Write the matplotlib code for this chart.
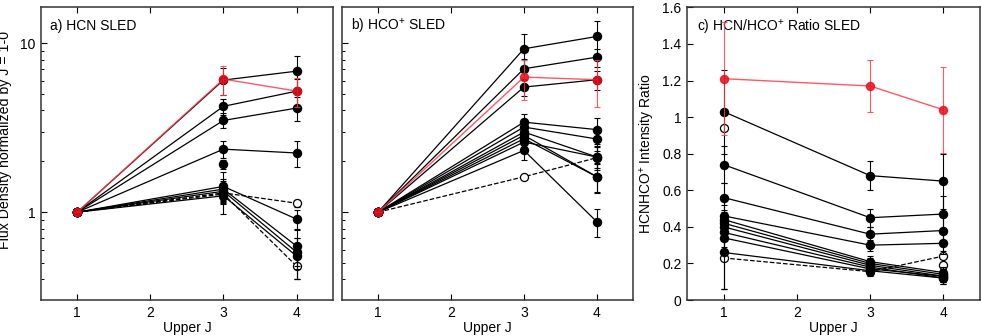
import matplotlib
matplotlib.use("Agg")
import matplotlib.pyplot as plt
import numpy as np
from matplotlib.ticker import FixedLocator, NullFormatter

plt.rcParams["font.family"] = ["Liberation Sans", "DejaVu Sans"]
plt.rcParams["mathtext.fontset"] = "custom"
plt.rcParams["mathtext.rm"] = "Liberation Sans"
plt.rcParams["font.size"] = 10

nan = np.nan
upper_j = [1, 3, 4]

# --- a) HCN SLED (normalised to J=1-0) ---
hcn_red = [1.0, 6.13, 5.21]
hcn_red_err = [0.0, 1.2, 1.0]
hcn_black = [
    [1.0, 6.05, 6.83],
    [1.0, 4.23, 5.20],
    [1.0, 3.49, 4.13],
    [1.0, 2.36, 2.24],
    [nan, 1.92, nan],
    [1.0, 1.42, 0.91],
    [1.0, 1.37, 0.63],
    [1.0, 1.33, 0.58],
    [1.0, 1.25, 0.55],
]
hcn_black_err = [
    [0.0, 1.1, 1.6],
    [0.0, 0.45, 0.9],
    [0.0, 0.35, 0.65],
    [0.0, 0.28, 0.38],
    [0.0, 0.12, 0.0],
    [0.0, 0.30, 0.12],
    [0.0, 0.20, 0.15],
    [0.0, 0.15, 0.12],
    [0.0, 0.28, 0.15],
]
hcn_open = [
    [1.0, 1.30, 1.13],
    [1.0, 1.28, 0.48],
]
hcn_open_err = [
    [0.0, 0.15, 0.05],
    [0.0, 0.15, 0.08],
]

# --- b) HCO+ SLED ---
hco_red = [1.0, 6.30, 6.08]
hco_red_err = [0.0, 1.7, 1.9]
hco_black = [
    [1.0, 9.27, 10.96],
    [1.0, 7.06, 8.27],
    [1.0, 5.50, 6.08],
    [1.0, 3.41, 3.08],
    [1.0, 3.19, 2.71],
    [1.0, 2.98, 2.12],
    [1.0, 2.85, 1.62],
    [1.0, 2.72, 1.62],
    [1.0, 2.60, 2.12],
    [1.0, 2.32, 0.877],
]
hco_black_err = [
    [0.0, 2.0, 2.5],
    [0.0, 1.0, 1.0],
    [0.0, 0.6, 0.8],
    [0.0, 0.42, 0.55],
    [0.0, 0.35, 0.4],
    [0.0, 0.3, 0.35],
    [0.0, 0.3, 0.3],
    [0.0, 0.3, 0.33],
    [0.0, 0.3, 0.3],
    [0.0, 0.28, 0.16],
]
hco_open = [
    [1.0, 1.62, 2.10],
]
hco_open_err = [
    [0.0, 0.0, 0.0],
]

# --- c) HCN/HCO+ ratio SLED ---
ratio_red = [1.21, 1.17, 1.04]
ratio_red_err = [0.31, 0.14, 0.235]
ratio_black = [
    [1.03, 0.68, 0.65],
    [0.74, 0.45, 0.47],
    [0.56, 0.36, 0.38],
    [0.46, 0.30, 0.31],
    [0.44, 0.21, 0.15],
    [0.42, 0.20, 0.14],
    [0.40, 0.19, 0.13],
    [0.37, 0.18, 0.12],
    [0.34, 0.17, 0.13],
    [0.26, 0.16, 0.12],
]
ratio_black_err = [
    [0.23, 0.08, 0.15],
    [0.10, 0.05, 0.10],
    [0.08, 0.04, 0.08],
    [0.06, 0.03, 0.06],
    [0.05, 0.03, 0.03],
    [0.05, 0.03, 0.03],
    [0.05, 0.03, 0.03],
    [0.05, 0.03, 0.03],
    [0.05, 0.03, 0.03],
    [0.20, 0.03, 0.03],
]
ratio_open = [
    [0.23, 0.155, 0.24],
    [0.94, nan, 0.19],
]
ratio_open_err = [
    [0.17, 0.02, 0.03],
    [0.0, 0.0, 0.02],
]

RED_LINE = "#ff3a4a"
RED_DOT = "#e8101c"
MS = 5.8


def draw_panel(ax, red, red_err, black, black_err, opened, opened_err):
    for vals, err in zip(opened, opened_err):
        ax.errorbar(upper_j, vals, yerr=err, color="black", lw=0.9, ls="--",
                    elinewidth=0.8, capsize=2.2, capthick=0.8, marker="o", ms=MS,
                    mfc="white", mec="black", mew=0.9, zorder=2)
    for vals, err in zip(black, black_err):
        ax.errorbar(upper_j, vals, yerr=err, color="black", lw=0.9, elinewidth=0.8,
                    capsize=2.2, capthick=0.8, marker="o", ms=MS, mfc="black",
                    mec="black", zorder=3)
    ax.errorbar(upper_j, red, yerr=red_err, color=RED_LINE, lw=1.0, elinewidth=0.8,
                capsize=2.2, capthick=0.8, marker="o", ms=MS, mfc=RED_DOT,
                mec=RED_DOT, alpha=0.85, zorder=5)

    ax.set_xlim(0.5, 4.5)
    ax.set_xticks([1, 2, 3, 4])
    ax.set_xlabel("Upper J", labelpad=1)
    ax.tick_params(direction="in", top=True, right=False, length=4.5, width=0.8, pad=4)
    ax.tick_params(which="minor", direction="in", right=False, length=2.5, width=0.7)
    for sp in ax.spines.values():
        sp.set_color("#333333")
        sp.set_linewidth(1.1)


fig = plt.figure(figsize=(9.81, 3.36), dpi=100)
ax_a = fig.add_axes([0.0415, 0.1071, 0.298, 0.871])
ax_b = fig.add_axes([0.3483, 0.1071, 0.2973, 0.871])
ax_c = fig.add_axes([0.7003, 0.1071, 0.2987, 0.871])

draw_panel(ax_a, hcn_red, hcn_red_err, hcn_black, hcn_black_err, hcn_open, hcn_open_err)
draw_panel(ax_b, hco_red, hco_red_err, hco_black, hco_black_err, hco_open, hco_open_err)
draw_panel(ax_c, ratio_red, ratio_red_err, ratio_black, ratio_black_err, ratio_open, ratio_open_err)

minor_log = [0.3, 0.4, 0.5, 0.6, 0.7, 0.8, 0.9, 2, 3, 4, 5, 6, 7, 8, 9]
for ax in (ax_a, ax_b):
    ax.set_yscale("log")
    ax.set_ylim(0.302, 16.3)
    ax.yaxis.set_major_locator(FixedLocator([1, 10]))
    ax.yaxis.set_minor_locator(FixedLocator(minor_log))
    ax.yaxis.set_minor_formatter(NullFormatter())
ax_a.set_yticklabels(["1", "10"])
ax_b.set_yticklabels([])

ax_c.set_ylim(0, 1.6)
c_ticks = [0, 0.2, 0.4, 0.6, 0.8, 1.0, 1.2, 1.4, 1.6]
ax_c.set_yticks(c_ticks)
ax_c.set_yticklabels([f"{t:g}" for t in c_ticks])

ax_a.set_ylabel("Flux Density normalized by J = 1-0", fontsize=10.2)
ax_a.yaxis.set_label_coords(-0.098, 0.547)
ax_c.set_ylabel("HCNHCO$^{+}$ Intensity Ratio")
ax_c.yaxis.set_label_coords(-0.102, 0.5)

ax_a.text(0.032, 0.935, "a) HCN SLED", transform=ax_a.transAxes, va="center")
ax_b.text(0.032, 0.935, "b) HCO$^{+}$ SLED", transform=ax_b.transAxes, va="center")
ax_c.text(0.033, 0.93, "c) HCN/HCO$^{+}$ Ratio SLED", transform=ax_c.transAxes, va="center")

fig.savefig("out.png", dpi=100)
